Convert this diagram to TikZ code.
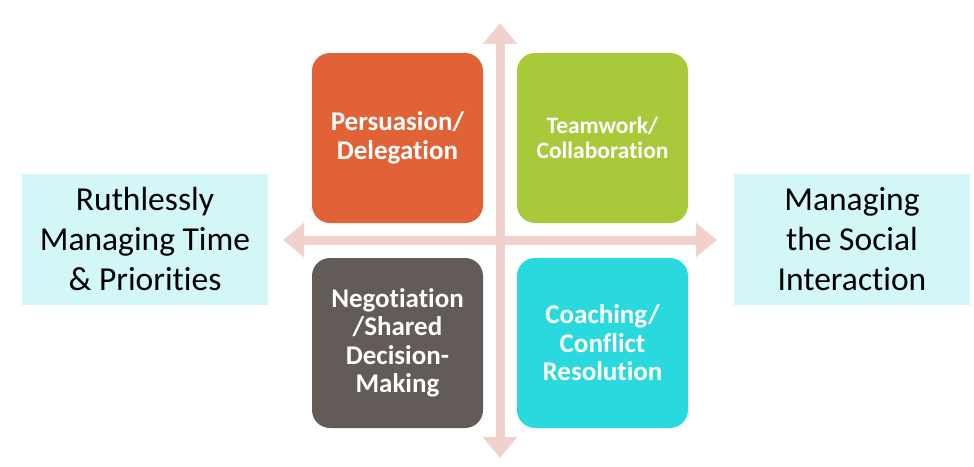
\documentclass[tikz,border=0pt]{standalone}
\usepackage{fontspec}
\setmainfont{Carlito}[Ligatures=NoCommon]
\usetikzlibrary{arrows.meta}
\definecolor{cOrange}{HTML}{E06236}
\definecolor{cGreen}{HTML}{A8CA3A}
\definecolor{cGray}{HTML}{625B57}
\definecolor{cCyan}{HTML}{2AD9DE}
\definecolor{cArrow}{HTML}{F2D0CB}
\definecolor{cSide}{HTML}{D3F6F7}
\tikzset{
  quad/.style={rounded corners=18pt, minimum width=171pt, minimum height=170pt,
    inner sep=0pt, text=white, align=center, font=\bfseries\fontsize{27}{28.5}\selectfont},
  sidebox/.style={fill=cSide, minimum height=131pt, inner sep=0pt, align=center,
    text=black, font=\fontsize{33.5}{40}\selectfont},
  bigarrow/.style={draw=cArrow, line width=9pt,
    {Triangle[width=33pt,length=21pt]}-{Triangle[width=33pt,length=21pt]}}
}
\begin{document}
\begin{tikzpicture}[x=1pt,y=-1pt]
\useasboundingbox (0,0) rectangle (974,466);
\coordinate (atop) at (500,23);
\coordinate (abot) at (500,458);
\coordinate (aleft) at (283,240);
\coordinate (aright) at (717,240);
\draw[bigarrow] (aleft) -- (aright);
\draw[bigarrow] (atop) -- (abot);
\node[quad, fill=cOrange] (pers) at (397.5,138) {Persuasion/\\Delegation};
\node[quad, fill=cGreen, font=\bfseries\fontsize{23.5}{25}\selectfont] (team) at (602.5,138) {Teamwork/\\Collaboration};
\node[quad, fill=cGray] (nego) at (397.5,343) {Negotiation\\/Shared\\Decision-\\Making};
\node[quad, fill=cCyan] (coach) at (602.5,343) {Coaching/\\Conflict\\Resolution};
\node[sidebox, minimum width=246pt] (ruth) at (145,239) {Ruthlessly\\Managing Time\\\& Priorities};
\node[sidebox, minimum width=236pt] (social) at (852,239) {Managing\\the Social\\Interaction};
\end{tikzpicture}
\end{document}
